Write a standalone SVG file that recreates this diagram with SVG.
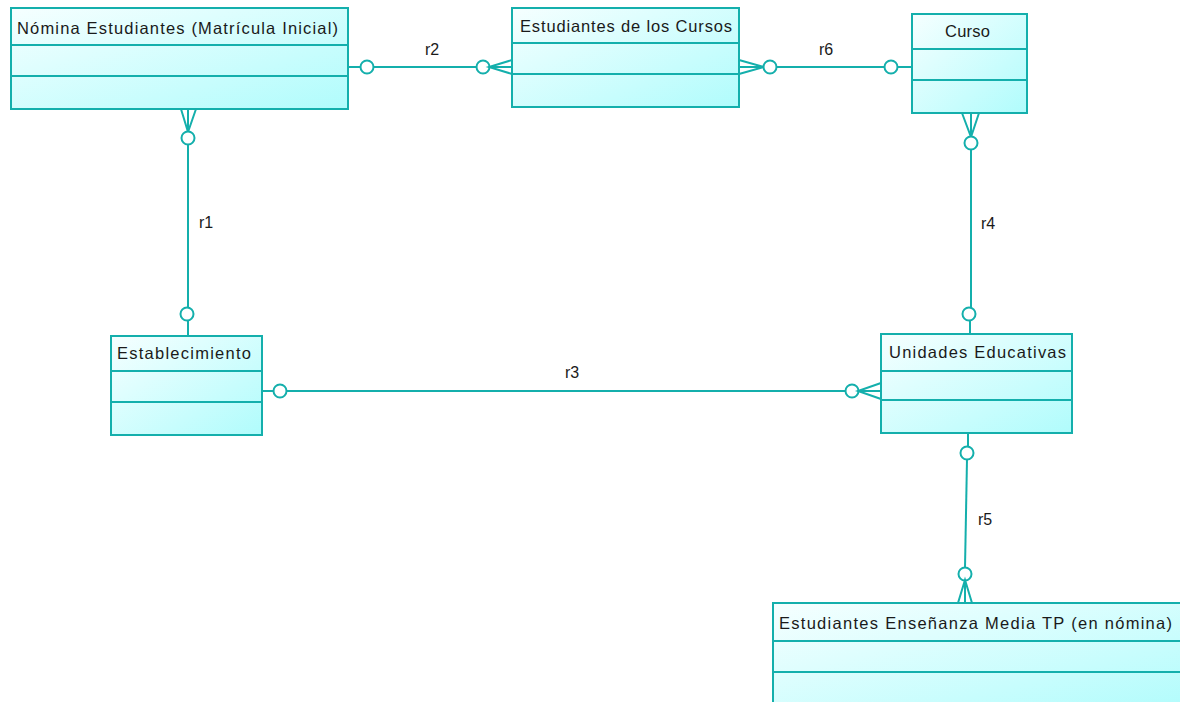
<svg xmlns="http://www.w3.org/2000/svg" width="1180" height="702" viewBox="0 0 1180 702">
  <defs>
    <linearGradient id="entFill" x1="0" y1="0" x2="1" y2="1">
      <stop offset="0" stop-color="#f6ffff"/>
      <stop offset="1" stop-color="#b0fcfc"/>
    </linearGradient>
    <style>
      .box { fill: url(#entFill); stroke: #14afac; stroke-width: 2; }
      .div { stroke: #14afac; stroke-width: 2; fill: none; }
      .title { font-family: "Liberation Sans", Arial, sans-serif; font-size: 16.5px; fill: #1a1a1a; }
      .lbl { font-family: "Liberation Sans", Arial, sans-serif; font-size: 16px; fill: #1a1a1a; }
      .ln { stroke: #14afac; stroke-width: 2; fill: none; }
      .opt { stroke: #14afac; stroke-width: 2; fill: #ffffff; }
    </style>
  </defs>
  <rect width="1180" height="702" fill="#ffffff"/>

  <!-- Entities -->
  <g id="nomina">
    <rect class="box" x="11" y="8" width="337" height="101"/>
    <line class="div" x1="11" y1="45" x2="348" y2="45"/>
    <line class="div" x1="11" y1="76" x2="348" y2="76"/>
    <text class="title" x="17" y="34" textLength="321" lengthAdjust="spacing">Nómina Estudiantes (Matrícula Inicial)</text>
  </g>

  <g id="estudiantes-cursos">
    <rect class="box" x="512" y="8" width="227" height="99"/>
    <line class="div" x1="512" y1="43" x2="739" y2="43"/>
    <line class="div" x1="512" y1="74" x2="739" y2="74"/>
    <text class="title" x="520" y="32" textLength="212" lengthAdjust="spacing">Estudiantes de los Cursos</text>
  </g>

  <g id="curso">
    <rect class="box" x="912" y="14" width="115" height="99"/>
    <line class="div" x1="912" y1="49" x2="1027" y2="49"/>
    <line class="div" x1="912" y1="80" x2="1027" y2="80"/>
    <text class="title" x="945" y="37" textLength="45" lengthAdjust="spacing">Curso</text>
  </g>

  <g id="establecimiento">
    <rect class="box" x="111" y="336" width="151" height="99"/>
    <line class="div" x1="111" y1="371" x2="262" y2="371"/>
    <line class="div" x1="111" y1="402" x2="262" y2="402"/>
    <text class="title" x="117" y="359" textLength="134" lengthAdjust="spacing">Establecimiento</text>
  </g>

  <g id="unidades-educativas">
    <rect class="box" x="881" y="334" width="191" height="99"/>
    <line class="div" x1="881" y1="371" x2="1072" y2="371"/>
    <line class="div" x1="881" y1="400" x2="1072" y2="400"/>
    <text class="title" x="889" y="358" textLength="177" lengthAdjust="spacing">Unidades Educativas</text>
  </g>

  <g id="estudiantes-media-tp">
    <rect class="box" x="773" y="603" width="415" height="110"/>
    <line class="div" x1="773" y1="641" x2="1188" y2="641"/>
    <line class="div" x1="773" y1="672" x2="1188" y2="672"/>
    <text class="title" x="779" y="629" textLength="393" lengthAdjust="spacing">Estudiantes Enseñanza Media TP (en nómina)</text>
  </g>

  <!-- Relationships -->
  <g id="connectors">
    <!-- r1: Nómina (many) to Establecimiento -->
    <polyline class="ln" points="181,109 188,132 196,109"/>
    <line class="ln" x1="188" y1="109" x2="188" y2="132"/>
    <line class="ln" x1="188" y1="144" x2="188" y2="308"/>
    <circle class="opt" cx="188" cy="138" r="6.5"/>
    <line class="ln" x1="188" y1="320" x2="188" y2="336"/>
    <circle class="opt" cx="187" cy="314" r="6.5"/>
    <text class="lbl" x="199" y="228">r1</text>

    <!-- r2: Nómina to Estudiantes de los Cursos (many) -->
    <line class="ln" x1="348" y1="67" x2="361" y2="67"/>
    <line class="ln" x1="373" y1="67" x2="477" y2="67"/>
    <circle class="opt" cx="367" cy="67" r="6.5"/>
    <circle class="opt" cx="483" cy="67" r="6.5"/>
    <polyline class="ln" points="512,60 489,67 512,74"/>
    <line class="ln" x1="489" y1="67" x2="512" y2="67"/>
    <text class="lbl" x="425" y="55">r2</text>

    <!-- r6: Estudiantes de los Cursos (many) to Curso -->
    <polyline class="ln" points="739,60 764,67 739,74"/>
    <line class="ln" x1="739" y1="67" x2="764" y2="67"/>
    <line class="ln" x1="776" y1="67" x2="885" y2="67"/>
    <circle class="opt" cx="770" cy="67" r="6.5"/>
    <circle class="opt" cx="891" cy="67" r="6.5"/>
    <line class="ln" x1="897" y1="67" x2="912" y2="67"/>
    <text class="lbl" x="819" y="55">r6</text>

    <!-- r4: Curso (many) to Unidades Educativas -->
    <polyline class="ln" points="962,113 971,137 979,113"/>
    <line class="ln" x1="971" y1="113" x2="971" y2="137"/>
    <line class="ln" x1="971" y1="149" x2="971" y2="308"/>
    <circle class="opt" cx="971" cy="143" r="6.5"/>
    <line class="ln" x1="970" y1="320" x2="970" y2="334"/>
    <circle class="opt" cx="969" cy="314" r="6.5"/>
    <text class="lbl" x="981" y="229">r4</text>

    <!-- r3: Establecimiento to Unidades Educativas (many) -->
    <line class="ln" x1="262" y1="391" x2="274" y2="391"/>
    <line class="ln" x1="286" y1="391" x2="846" y2="391"/>
    <circle class="opt" cx="280" cy="391" r="6.5"/>
    <circle class="opt" cx="852" cy="391" r="6.5"/>
    <polyline class="ln" points="881,383 858,391 881,399"/>
    <line class="ln" x1="858" y1="391" x2="881" y2="391"/>
    <text class="lbl" x="565" y="378">r3</text>

    <!-- r5: Unidades Educativas to Estudiantes Enseñanza Media TP (many) -->
    <line class="ln" x1="968" y1="433" x2="968" y2="447"/>
    <circle class="opt" cx="967" cy="453" r="6.5"/>
    <line class="ln" x1="967" y1="459" x2="965" y2="568"/>
    <circle class="opt" cx="965" cy="574" r="6.5"/>
    <polyline class="ln" points="958,603 965,580 972,603"/>
    <line class="ln" x1="965" y1="580" x2="965" y2="603"/>
    <text class="lbl" x="978" y="525">r5</text>
  </g>
</svg>
